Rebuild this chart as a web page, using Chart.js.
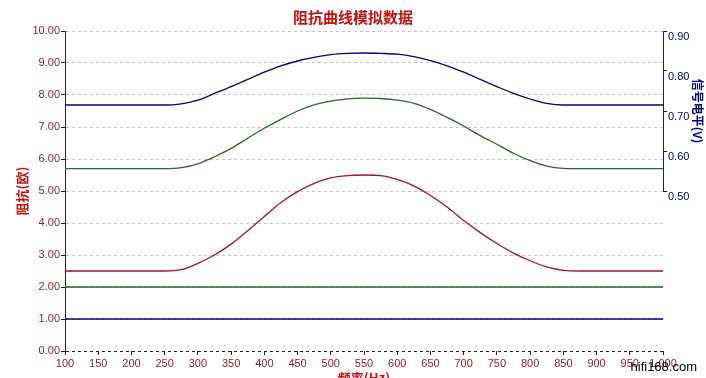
<!DOCTYPE html>
<html>
<head>
<meta charset="utf-8">
<script src="https://cdn.jsdelivr.net/npm/chart.js@4"></script>
<style>
  html, body { margin: 0; padding: 0; background: #fff; }
  #wrap { width: 706px; height: 378px; }
</style>
</head>
<body>
<div id="wrap"><canvas id="impChart"></canvas></div>
<script>
// frequency points (Hz)
const freqs = [100, 125, 150, 175, 200, 225, 250, 275, 300, 325, 350, 375, 400, 425, 450, 475, 500, 525, 550,
               575, 600, 625, 650, 675, 700, 725, 750, 775, 800, 825, 850, 875, 900, 925, 950, 975, 1000];

// impedance curves (left axis)
const redCurve = [2.50, 2.50, 2.50, 2.50, 2.50, 2.50, 2.50, 2.54, 2.74, 3.00, 3.34, 3.76, 4.20, 4.64, 4.98, 5.24, 5.41, 5.48, 5.50,
                  5.48, 5.36, 5.16, 4.86, 4.50, 4.08, 3.70, 3.36, 3.06, 2.82, 2.63, 2.52, 2.50, 2.50, 2.50, 2.50, 2.50, 2.50];
const greenCurve = [5.70, 5.70, 5.70, 5.70, 5.70, 5.70, 5.70, 5.73, 5.85, 6.07, 6.33, 6.65, 6.96, 7.24, 7.50, 7.69, 7.81, 7.88, 7.90,
                    7.89, 7.84, 7.74, 7.55, 7.30, 7.03, 6.73, 6.46, 6.18, 5.95, 5.78, 5.71, 5.70, 5.70, 5.70, 5.70, 5.70, 5.70];

// signal level (right axis, V)
const blueCurve = [0.715, 0.715, 0.715, 0.715, 0.715, 0.715, 0.715, 0.718, 0.727, 0.744, 0.761, 0.779, 0.797, 0.813, 0.825, 0.834, 0.841, 0.844, 0.845,
                   0.844, 0.842, 0.836, 0.826, 0.813, 0.797, 0.779, 0.761, 0.744, 0.730, 0.719, 0.715, 0.715, 0.715, 0.715, 0.715, 0.715, 0.715];

// flat reference lines
const flatFreqs = [100, 1000];
const greenFlat = [2.00, 2.00];
const blueFlat = [1.00, 1.00];

const cjk = '"Noto Sans CJK SC", sans-serif';
const latin = '"Liberation Sans", Arial, sans-serif';

function pts(xs, ys) {
    return xs.map(function(x, i) { return { x: x, y: ys[i] }; });
}

// watermark text in the bottom right corner
const watermark = {
    id: 'watermark',
    afterDraw: function(chart) {
        const ctx = chart.ctx;
        ctx.save();
        ctx.font = '13px ' + latin;
        ctx.fillStyle = '#000';
        ctx.textAlign = 'right';
        ctx.textBaseline = 'alphabetic';
        ctx.fillText('hifi168.com', chart.width - 9, 371);
        ctx.restore();
    }
};

const ctx = document.getElementById('impChart').getContext('2d');
new Chart(ctx, {
    type: 'line',
    data: {
        datasets: [
            { data: pts(freqs, blueCurve), yAxisID: 'y2', borderColor: '#000080', borderWidth: 1.3 },
            { data: pts(freqs, greenCurve), yAxisID: 'y', borderColor: '#1f6b1f', borderWidth: 1.3 },
            { data: pts(freqs, redCurve), yAxisID: 'y', borderColor: '#a31515', borderWidth: 1.3 },
            { data: pts(flatFreqs, greenFlat), yAxisID: 'y', borderColor: '#1f6b1f', borderWidth: 1.3 },
            { data: pts(flatFreqs, blueFlat), yAxisID: 'y', borderColor: '#000080', borderWidth: 1.3 }
        ]
    },
    options: {
        responsive: true,
        maintainAspectRatio: false,
        animation: false,
        layout: { padding: 0 },
        elements: {
            point: { radius: 0 },
            line: { cubicInterpolationMode: 'monotone', fill: false }
        },
        plugins: {
            legend: { display: false },
            tooltip: { enabled: false },
            title: {
                display: true,
                text: '阻抗曲线模拟数据',
                color: '#c41010',
                font: { family: cjk, size: 15, weight: 'bold' },
                padding: { top: 8, bottom: 5 }
            }
        },
        scales: {
            x: {
                type: 'linear',
                min: 100,
                max: 1000,
                border: { display: false },
                grid: { drawOnChartArea: false, drawTicks: true, tickLength: 4, color: '#222' },
                ticks: {
                    stepSize: 50,
                    padding: 2,
                    maxRotation: 0,
                    autoSkip: false,
                    color: '#8b1a1a',
                    font: { family: latin, size: 11 }
                },
                title: {
                    display: true,
                    text: '频率(Hz)',
                    color: '#cc1111',
                    font: { family: cjk, size: 13, weight: 'bold' },
                    padding: { top: 0, bottom: -8 }
                },
                afterFit: function(scale) { scale.height = 27; }
            },
            y: {
                position: 'left',
                min: 0,
                max: 10,
                border: { display: true, color: '#222', dash: [3, 3] },
                grid: {
                    color: function(c) { return c.tick && c.tick.value === 0 ? '#222' : '#c4c4c4'; },
                    tickLength: 4,
                    tickColor: '#222',
                    tickBorderDash: []
                },
                ticks: {
                    stepSize: 0.5,
                    padding: 1,
                    color: '#8b1a1a',
                    font: { family: latin, size: 11 },
                    callback: function(v) { return v.toFixed(2); }
                },
                title: {
                    display: true,
                    text: '阻抗(欧)',
                    color: '#cc1111',
                    font: { family: cjk, size: 13, weight: 'bold' },
                    padding: { top: 14, bottom: 0 }
                },
                afterFit: function(scale) { scale.width = 65; }
            },
            y2: {
                position: 'right',
                stack: 'right',
                stackWeight: 1,
                min: 0.5,
                max: 0.9,
                border: { display: true, color: '#222' },
                grid: { drawOnChartArea: false, tickLength: 4, color: '#222' },
                ticks: {
                    stepSize: 0.1,
                    padding: 1,
                    labelOffset: 6,
                    color: '#000066',
                    font: { family: latin, size: 11 },
                    callback: function(v) { return v.toFixed(2); }
                },
                title: {
                    display: true,
                    text: '信号电平(V)',
                    color: '#000080',
                    font: { family: cjk, size: 12, weight: 'bold' },
                    padding: { top: 1, bottom: 0 }
                },
                afterFit: function(scale) { scale.width = 43; }
            },
            y3: {
                position: 'right',
                stack: 'right',
                stackWeight: 1,
                min: 0,
                max: 1,
                border: { display: false },
                grid: { display: false },
                ticks: { display: false },
                afterFit: function(scale) { scale.width = 43; }
            }
        }
    },
    plugins: [watermark]
});
</script>
</body>
</html>
